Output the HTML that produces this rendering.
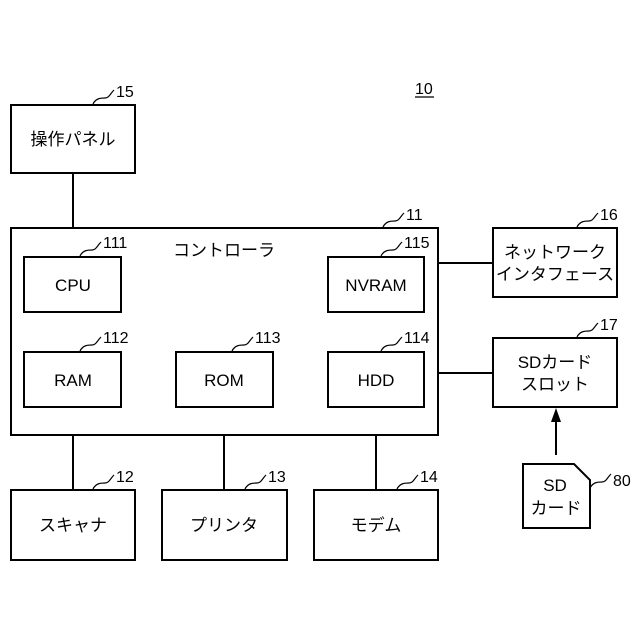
<!DOCTYPE html>
<html><head><meta charset="utf-8"><style>body{margin:0;background:#fff}svg{display:block}</style></head><body>
<svg width="640" height="640" viewBox="0 0 640 640" xmlns="http://www.w3.org/2000/svg" font-family="Liberation Sans, Noto Sans CJK JP, sans-serif" fill="none" stroke="#000" stroke-width="2">
<g>
<rect x="11" y="105" width="124" height="68"/>
<rect x="11" y="228" width="427" height="207"/>
<rect x="24" y="257" width="97" height="55"/>
<rect x="328" y="257" width="96" height="55"/>
<rect x="24" y="352" width="97" height="55"/>
<rect x="176" y="352" width="97" height="55"/>
<rect x="328" y="352" width="96" height="55"/>
<rect x="493" y="228" width="124" height="69"/>
<rect x="493" y="338" width="124" height="69"/>
<rect x="11" y="490" width="124" height="70"/>
<rect x="162" y="490" width="125" height="70"/>
<rect x="314" y="490" width="124" height="70"/>
<path d="M523 464 H574 L590 480 V528 H523 Z"/>
<path d="M73 173V228M438 263H493M438 373H493M73 435V490M224 435V490M376 435V490M556 455V420"/>
</g>
<path d="M556 408 L551 422 L561 422 Z" fill="#000" stroke="none"/>
<g stroke-width="1.2">
<path d="M93 104c3-6 8-6 12-6s5-4 9-8"/>
<path d="M383 227c3-6 8-6 12-6s5-4 9-8"/>
<path d="M80 256c3-6 8-6 12-6s5-4 9-8"/>
<path d="M381 256c3-6 8-6 12-6s5-4 9-8"/>
<path d="M80 351c3-6 8-6 12-6s5-4 9-8"/>
<path d="M232 351c3-6 8-6 12-6s5-4 9-8"/>
<path d="M381 351c3-6 8-6 12-6s5-4 9-8"/>
<path d="M577 227c3-6 8-6 12-6s5-4 9-8"/>
<path d="M577 337c3-6 8-6 12-6s5-4 9-8"/>
<path d="M93 489c3-6 8-6 12-6s5-4 9-8"/>
<path d="M245 489c3-6 8-6 12-6s5-4 9-8"/>
<path d="M397 489c3-6 8-6 12-6s5-4 9-8"/>
<path d="M590 488c3-6 8-6 12-6s5-4 9-8"/>
</g>
<g fill="#000" stroke="none" font-size="16">
<text x="116" y="97">15</text>
<text x="415" y="94">10</text>
<text x="406" y="220">11</text>
<text x="103" y="248">111</text>
<text x="404" y="248">115</text>
<text x="103" y="343">112</text>
<text x="255" y="343">113</text>
<text x="404" y="343">114</text>
<text x="600" y="220">16</text>
<text x="600" y="330">17</text>
<text x="116" y="482">12</text>
<text x="268" y="482">13</text>
<text x="420" y="482">14</text>
<text x="613" y="486">80</text>
</g>
<path d="M415 97H434" stroke-width="1.3"/>
<g fill="#000" stroke="none" font-size="17" text-anchor="middle">
<text x="73" y="145">操作パネル</text>
<text x="224" y="256">コントローラ</text>
<text x="73" y="291">CPU</text>
<text x="376" y="291">NVRAM</text>
<text x="73" y="386">RAM</text>
<text x="224" y="386">ROM</text>
<text x="376" y="386">HDD</text>
<text x="555" y="258">ネットワーク</text>
<text x="555" y="280">インタフェース</text>
<text x="555" y="368">SDカード</text>
<text x="555" y="390">スロット</text>
<text x="73" y="531">スキャナ</text>
<text x="224" y="531">プリンタ</text>
<text x="376" y="531">モデム</text>
<text x="555" y="491">SD</text>
<text x="556" y="514">カード</text>
</g>
</svg>
</body></html>
